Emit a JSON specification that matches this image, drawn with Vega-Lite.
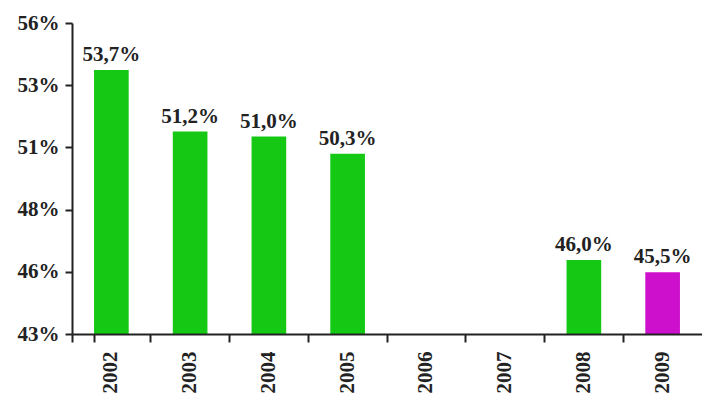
{
  "$schema": "https://vega.github.io/schema/vega-lite/v6.json",
  "width": 630,
  "height": 311,
  "autosize": "none",
  "padding": {"left": 72, "top": 23, "right": 0, "bottom": 65},
  "background": "white",
  "config": {
    "view": {"stroke": null},
    "locale": {"number": {"decimal": ",", "thousands": ".", "grouping": [3], "currency": ["", " €"]}},
    "font": "Liberation Serif"
  },
  "data": {
    "values": [
      {"year": "2002", "share": 0.537},
      {"year": "2003", "share": 0.512},
      {"year": "2004", "share": 0.510},
      {"year": "2005", "share": 0.503},
      {"year": "2008", "share": 0.460},
      {"year": "2009", "share": 0.455}
    ]
  },
  "encoding": {
    "x": {
      "field": "year",
      "type": "nominal",
      "sort": null,
      "scale": {"domain": ["2002", "2003", "2004", "2005", "2006", "2007", "2008", "2009"], "paddingInner": 0.56, "paddingOuter": 0.28},
      "axis": {
        "title": null,
        "zindex": 2,
        "labelAngle": -90,
        "labelFont": "Liberation Serif",
        "labelFontWeight": "bold",
        "labelFontSize": 21,
        "labelColor": "#222222",
        "labelPadding": 9,
        "bandPosition": -0.636,
        "tickExtra": true,
        "tickSize": 8,
        "tickWidth": 2,
        "tickColor": "#222222",
        "domainColor": "#222222",
        "domainWidth": 2
      }
    },
    "y": {
      "field": "share",
      "type": "quantitative",
      "scale": {"domain": [0.43, 0.556], "zero": false, "nice": false},
      "axis": {
        "title": null,
        "zindex": 3,
        "values": [0.43, 0.4552, 0.4804, 0.5056, 0.5308, 0.556],
        "format": ".0%",
        "grid": false,
        "labelFont": "Liberation Serif",
        "labelFontWeight": "bold",
        "labelFontSize": 21,
        "labelColor": "#222222",
        "labelPadding": 6,
        "tickSize": 7,
        "tickWidth": 2,
        "tickColor": "#222222",
        "domainColor": "#222222",
        "domainWidth": 2
      }
    }
  },
  "layer": [
    {
      "mark": {"type": "bar", "clip": true},
      "encoding": {
        "color": {
          "condition": {"test": "datum.year === '2009'", "value": "#cc10cc"},
          "value": "#14c814"
        }
      }
    },
    {
      "mark": {"type": "text", "baseline": "bottom", "dy": -5, "font": "Liberation Serif", "fontWeight": "bold", "fontSize": 21, "color": "#222222"},
      "encoding": {
        "text": {"field": "share", "type": "quantitative", "format": ".1%"}
      }
    }
  ]
}
